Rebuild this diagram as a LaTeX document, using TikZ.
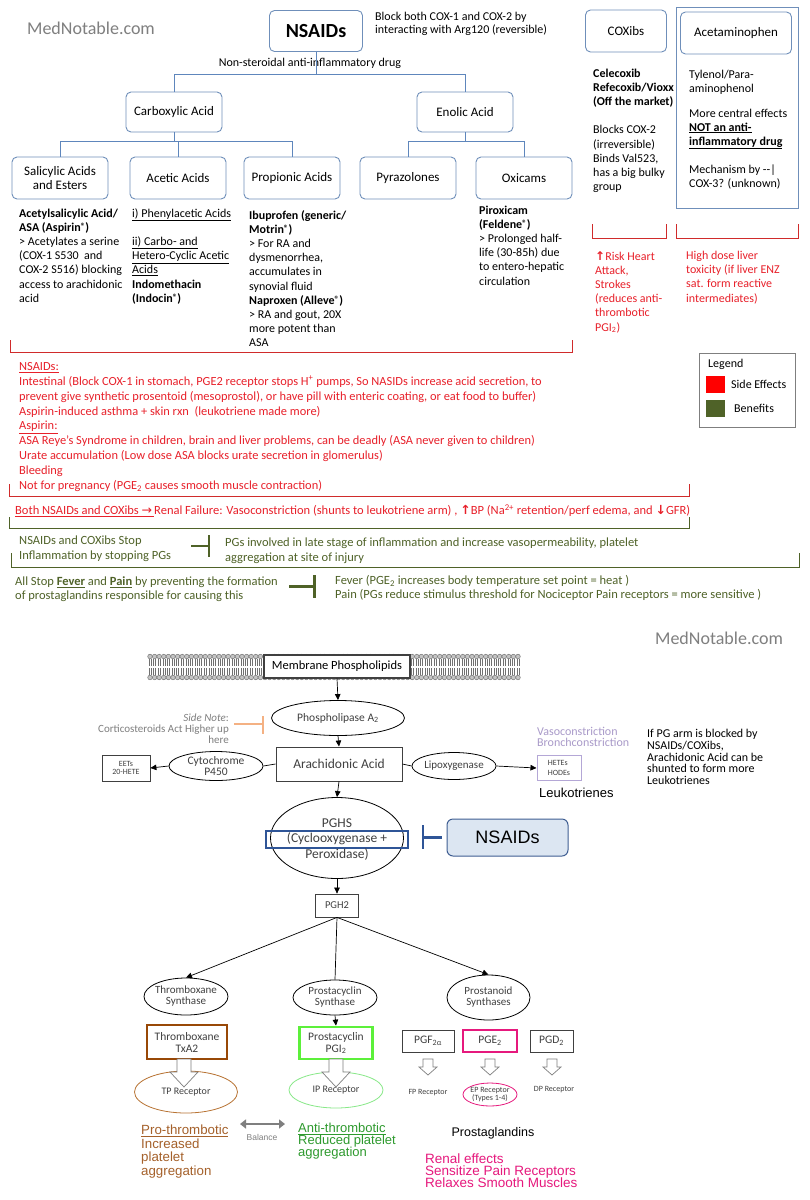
\documentclass[tikz,border=0pt]{standalone}
\usepackage{fontspec}
\setmainfont{Carlito}
\newfontfamily\arialf{Liberation Sans}
\newfontfamily\dvs{DejaVu Sans}
\usetikzlibrary{arrows.meta,shapes.geometric}
\newcommand\fsz[2]{\fontsize{#1}{#2}\selectfont\lineskiplimit=-30pt\relax}
\newcommand\upar{{\dvs\bfseries ↑}}
\newcommand\dnar{{\dvs\bfseries ↓}}
\newcommand\regm{\raisebox{0.4ex}{\fontsize{9}{9}\selectfont ®}}
\definecolor{boxblue}{HTML}{6F8FBA}
\definecolor{linblue}{HTML}{5E86BC}
\definecolor{sered}{HTML}{E8202A}
\definecolor{brred}{HTML}{D02B2B}
\definecolor{olive}{HTML}{4F6228}
\definecolor{mgray}{HTML}{7F7F7F}
\definecolor{dgray}{HTML}{404040}
\definecolor{peach}{HTML}{F4B183}
\definecolor{lav}{HTML}{A99AC9}
\definecolor{navyb}{HTML}{2F5597}
\definecolor{nfill}{HTML}{DCE6F2}
\definecolor{txbrown}{HTML}{984807}
\definecolor{pgigreen}{HTML}{5CF03A}
\definecolor{pinkc}{HTML}{E6197D}
\definecolor{probrown}{HTML}{A5612B}
\definecolor{antigreen}{HTML}{2E9A2E}
\definecolor{tpbrown}{HTML}{B87333}
\definecolor{iplight}{HTML}{88E888}
\definecolor{hetelav}{HTML}{B4A7D6}
\definecolor{memgray}{HTML}{707070}
\definecolor{memfill}{HTML}{C4C4C4}
\begin{document}
\begin{tikzpicture}[x=1pt,y=-1pt,
  tbox/.style={draw=boxblue, line width=0.9pt, rounded corners=5pt, fill=white, inner sep=0pt, align=center, font=\fsz{13}{15}},
  tree/.style={draw=linblue, line width=0.9pt},
  txt/.style={anchor=north west, inner sep=0pt, align=left},
  redbr/.style={draw=brred, line width=1pt},
  grnbr/.style={draw=olive, line width=1pt},
  arr/.style={draw=black, line width=0.7pt, -{Triangle[length=6pt,width=5.5pt]}},
  pl/.style={draw=black, line width=0.7pt},
  ell/.style={ellipse, draw=black, line width=0.8pt, inner sep=0pt, fill=white},
  etxt/.style={inner sep=0pt, align=center, text=dgray, font=\fsz{11}{11}},
  bx/.style={rectangle, inner sep=0pt, align=center, text=dgray, fill=white},
  inhg/.style={draw=olive, line width=2.5pt},
  hol/.style={draw=mgray, line width=0.7pt, fill=white}
]
\useasboundingbox (0,0) rectangle (809,1200);
\fill[white] (0,0) rectangle (809,1200);

% ================= TOP SECTION =================
\node[text=mgray, inner sep=0pt, font=\fsz{18}{20}] (mn1) at (91,28) {MedNotable.com};

\node[tbox, minimum width=93pt, minimum height=41pt, font=\fsz{20}{24}\bfseries] (nsaid) at (316,31) {NSAIDs};
\node[txt, font=\fsz{12}{13.5}] (block) at (375,10.5) {\strut Block both COX-1 and COX-2 by\\interacting with Arg120 (reversible)};
\node[inner sep=0pt, font=\fsz{12}{14}] (nsd) at (310,63) {Non-steroidal anti-inflammatory drug};

\node[tbox, minimum width=96pt, minimum height=40pt] (carb) at (174,112) {Carboxylic Acid};
\node[tbox, minimum width=96pt, minimum height=40pt] (enol) at (465,112) {Enolic Acid};
\draw[tree] (nsaid.south) -- ++(0,23);
\draw[tree] (carb.north) -- ++(0,-17) -| (enol.north);

\node[tbox, minimum width=96pt, minimum height=42pt, font=\fsz{13}{14}] (sal) at (60,178) {Salicylic Acids\\and Esters};
\node[tbox, minimum width=96pt, minimum height=42pt] (acet) at (178,178) {Acetic Acids};
\node[tbox, minimum width=96pt, minimum height=42pt] (prop) at (292,178) {Propionic Acids};
\node[tbox, minimum width=96pt, minimum height=42pt] (pyra) at (408,178) {Pyrazolones};
\node[tbox, minimum width=96pt, minimum height=42pt] (oxi) at (524,178) {Oxicams};
\draw[tree] (carb.south) -- ++(0,10) coordinate (cj);
\draw[tree] (sal.north) -- ++(0,-15) -| (prop.north);
\draw[tree] (acet.north) -- (acet.north |- cj);
\draw[tree] (enol.south) -- ++(0,10) coordinate (ej);
\draw[tree] (pyra.north) -- ++(0,-15) -| (oxi.north);

\node[txt, font=\fsz{12}{14.2}] (d1) at (19,207) {\strut\textbf{Acetylsalicylic Acid/}\\\textbf{ASA (Aspirin\regm)}\\> Acetylates a serine\\(COX-1 S530 \ and\\COX-2 S516) blocking\\access to arachidonic\\acid};
\node[txt, font=\fsz{12}{14.2}] (d2) at (132,207) {\strut\underline{i) Phenylacetic Acids}\\ \\\underline{ii) Carbo- and}\\\underline{Hetero-Cyclic Acetic}\\\underline{Acids}\\\textbf{Indomethacin}\\\textbf{(Indocin\regm)}};
\node[txt, font=\fsz{12}{14.2}] (d3) at (249,209) {\strut\textbf{Ibuprofen (generic/}\\\textbf{Motrin\regm)}\\> For RA and\\dysmenorrhea,\\accumulates in\\synovial fluid\\\textbf{Naproxen (Alleve\regm)}\\> RA and gout, 20X\\more potent than\\ASA};
\node[txt, font=\fsz{12}{14.2}] (d5) at (479,204) {\strut\textbf{Piroxicam}\\\textbf{(Feldene\regm)}\\> Prolonged half-\\life (30-85h) due\\to entero-hepatic\\circulation};

% right column
\node[tbox, minimum width=81pt, minimum height=42pt] (coxib) at (626,31) {COXibs};
\draw[draw=boxblue, line width=1pt] (676,7) rectangle (798,208);
\node[tbox, minimum width=111pt, minimum height=42pt] (acm) at (736,33) {Acetaminophen};
\node[txt, font=\fsz{12}{14.2}] (cx1) at (593,67) {\strut\textbf{Celecoxib}\\\textbf{Refecoxib/Vioxx}\\\textbf{(Off the market)}\\ \\Blocks COX-2\\(irreversible)\\Binds Val523,\\has a big bulky\\group};
\node[txt, font=\fsz{12}{14}] (am1) at (689,68) {\strut Tylenol/Para-\\aminophenol};
\node[txt, font=\fsz{12}{14}] (am2) at (689,107) {\strut More central effects\\\textbf{\underline{NOT an anti-}}\\\textbf{\underline{inflammatory drug}}};
\node[txt, font=\fsz{12}{14}] (am3) at (689,163) {\strut Mechanism by -{}-|\\COX-3? (unknown)};

\draw[redbr] (592,224) -- (592,238) -- (666,238) -- (666,224);
\draw[redbr] (676,224) -- (676,238) -- (798,238) -- (798,224);
\node[txt, text=sered, font=\fsz{12}{14.2}] (cxr) at (595,250) {\strut\upar Risk Heart\\Attack,\\Strokes\\(reduces anti-\\thrombotic\\PGI\textsubscript{2})};
\node[txt, text=sered, font=\fsz{12}{14.3}] (amr) at (686,249) {\strut High dose liver\\toxicity (if liver ENZ\\sat. form reactive\\intermediates)};

% legend
\node[draw=mgray, line width=0.8pt, minimum width=96pt, minimum height=74pt, inner sep=0pt] (legend) at (747,390) {};
\node[anchor=west, inner sep=0pt, font=\fsz{12}{14}] (legt) at (708,364) {Legend};
\node[fill=red, minimum width=19pt, minimum height=17pt, inner sep=0pt] (lr) at (715.5,384.5) {};
\node[anchor=west, inner sep=0pt, font=\fsz{12}{14}] (lrt) at (731,384) {Side Effects};
\node[fill=olive, minimum width=19pt, minimum height=17pt, inner sep=0pt] (lg) at (715.5,408) {};
\node[anchor=west, inner sep=0pt, font=\fsz{12}{14}] (lgt) at (734,408) {Benefits};

% side effects
\draw[redbr] (10,340) -- (10,352) -- (572,352) -- (572,340);
\node[txt, text=sered, font=\fsz{12.4}{14.9}] (se) at (19,359.7) {\strut\underline{NSAIDs:}\\Intestinal (Block COX-1 in stomach, PGE2 receptor stops H\textsuperscript{+} pumps, So NASIDs increase acid secretion, to\\prevent give synthetic prosentoid (mesoprostol), or have pill with enteric coating, or eat food to buffer)\\Aspirin-induced asthma + skin rxn \ (leukotriene made more)\\\underline{Aspirin:}\\ASA Reye’s Syndrome in children, brain and liver problems, can be deadly (ASA never given to children)\\Urate accumulation (Low dose ASA blocks urate secretion in glomerulus)\\Bleeding\\Not for pregnancy (PGE\textsubscript{2} causes smooth muscle contraction)};
\draw[redbr] (9,484) -- (9,496) -- (689,496) -- (689,484);
\node[anchor=west, inner sep=0pt, text=sered, font=\fsz{12.5}{14}] (renal) at (15,511) {\underline{Both NSAIDs and COXibs {\dvs →}\,}Renal Failure: Vasoconstriction (shunts to leukotriene arm) , \upar BP (Na\textsuperscript{2+} retention/perf edema, and \dnar GFR)};
\draw[grnbr] (9,517) -- (9,528) -- (689,528) -- (689,517);

% benefits
\node[txt, text=olive, font=\fsz{12.5}{15}] (b1) at (19,533.6) {\strut NSAIDs and COXibs Stop\\Inflammation by stopping PGs};
\node[txt, text=olive, font=\fsz{12.5}{15}] (b1r) at (225,535.6) {\strut PGs involved in late stage of inflammation and increase vasopermeability, platelet\\aggregation at site of injury};
\coordinate (g1a) at (191,546);
\coordinate (g1b) at (209,546);
\draw[inhg] (g1a) -- (g1b);
\draw[inhg] (209,535) -- (209,557);
\draw[grnbr] (11,553) -- (11,567) -- (799,567) -- (799,553);
\node[txt, text=olive, font=\fsz{12.5}{14}] (b2) at (15,575.3) {\strut All Stop \textbf{\underline{Fever}} and \textbf{\underline{Pain}} by preventing the formation\\of prostaglandins responsible for causing this};
\node[txt, text=olive, font=\fsz{12.5}{14}] (b2r) at (335,574.3) {\strut Fever (PGE\textsubscript{2} increases body temperature set point = heat )\\Pain (PGs reduce stimulus threshold for Nociceptor Pain receptors = more sensitive )};
\coordinate (g2a) at (289,586);
\coordinate (g2b) at (314,586);
\draw[inhg, line width=3pt] (g2a) -- (g2b);
\draw[inhg, line width=3pt] (314,575) -- (314,598);

% ================= BOTTOM SECTION =================
\node[text=mgray, inner sep=0pt, font=\fsz{18}{20}] (mn2) at (719,638) {MedNotable.com};

% membrane bilayer
\foreach \i in {0,...,80} {
  \pgfmathsetmacro\xx{150+4.6*\i}
  \draw[memgray, line width=0.5pt] (\xx-1,659) -- (\xx-1,666) (\xx+1,659) -- (\xx+1,666)
       (\xx-1,668) -- (\xx-1,675) (\xx+1,668) -- (\xx+1,675);
  \filldraw[draw=memgray, fill=memfill, line width=0.45pt] (\xx,656.5) circle (2.3) (\xx,677.5) circle (2.3);
}
\node[bx, draw=dgray, line width=1.3pt, minimum width=146pt, minimum height=23pt, text=black, font=\fsz{12.5}{14}] (mem) at (337,666.5) {Membrane Phospholipids};

\node[ell, minimum width=133pt, minimum height=35pt, label={[etxt, font=\fsz{11.5}{12}]center:Phospholipase A\textsubscript{2}}] (pla) at (338,718) {};
\node[anchor=north east, inner sep=0pt, align=right, text=mgray, font=\fsz{11}{11}] (side) at (229,713.4) {\textit{Side Note}:\\Corticosteroids Act Higher up\\here};
\coordinate (pk1) at (234,724);
\coordinate (pk2) at (262,724);
\draw[draw=peach, line width=2.5pt] (pk1) -- (pk2);
\draw[draw=peach, line width=2.5pt] (263,716) -- (263,734);

\node[bx, draw=dgray, line width=1pt, minimum width=126pt, minimum height=34pt, font=\fsz{13.5}{15}] (ara) at (339,764) {Arachidonic Acid};
\node[ell, minimum width=94pt, minimum height=29pt, label={[etxt, font=\fsz{11.5}{11}]center:Cytochrome\\P450}] (cyt) at (216,766) {};
\node[bx, draw=dgray, line width=0.8pt, minimum width=48pt, minimum height=26pt, font=\fsz{8}{8.5}] (eet) at (126,768) {EETs\\20-HETE};
\node[ell, minimum width=84pt, minimum height=27pt, label={[etxt, font=\fsz{11}{11}]center:Lipoxygenase}] (lip) at (454,766) {};
\node[bx, draw=hetelav, line width=1pt, minimum width=44pt, minimum height=25pt, align=left, font=\fsz{8}{9.5}] (hete) at (559,768) {HETEs\\HODEs};
\node[txt, text=lav, font=\fsz{12}{11.5}] (vaso) at (537,726.7) {Vasoconstriction\\Bronchconstriction};
\node[anchor=west, inner sep=0pt, font=\arialf\fsz{13}{14}] (leuk) at (539,793) {Leukotrienes};
\node[txt, font=\fsz{12}{11.75}] (ifpg) at (647,729) {If PG arm is blocked by\\NSAIDs/COXibs,\\Arachidonic Acid can be\\shunted to form more\\Leukotrienes};

\draw[arr] (mem.south) -- (pla.north);
\draw[arr] (pla.south) -- (ara.north);
\draw[pl] (ara.west) -- (cyt.east);
\draw[arr] (cyt.west) -- (eet.east);
\draw[pl] (ara.east) -- (lip.west);
\draw[arr] (lip.east) -- (hete.west);

\node[ell, minimum width=133pt, minimum height=81pt] (pghs) at (337,838) {};
\node[draw=navyb, line width=1.8pt, minimum width=142pt, minimum height=17pt, inner sep=0pt] (cyc) at (337,839.5) {};
\node[inner sep=0pt, align=center, text=dgray, font=\fsz{13.5}{15.5}] (pghst) at (337,839.5) {PGHS\\(Cyclooxygenase +\\Peroxidase)};
\node[draw=navyb!80!gray, fill=nfill, rounded corners=6pt, line width=1pt, minimum width=121pt, minimum height=37pt, inner sep=0pt, font=\arialf\fsz{18}{20}] (nsaid2) at (507.5,837.5) {NSAIDs};
\draw[draw=navyb, line width=2.5pt, shorten <=5pt] (nsaid2.west) -- (423,837.5);
\draw[draw=navyb, line width=2.5pt] (423,825) -- (423,849);
\draw[arr] (ara.south) -- (pghs.north);

\node[bx, draw=dgray, line width=0.8pt, minimum width=43pt, minimum height=23pt, font=\fsz{10.5}{12}] (pgh2) at (337,905.5) {PGH2};
\draw[arr] (pghs.south) -- (pgh2.north);

\node[ell, minimum width=84pt, minimum height=37pt, label={[etxt]center:Thromboxane\\Synthase}] (tbs) at (186,996.5) {};
\node[ell, minimum width=84pt, minimum height=35pt, label={[etxt]center:Prostacyclin\\Synthase}] (pcs) at (335,997.5) {};
\node[ell, minimum width=83pt, minimum height=45pt, label={[etxt]center:Prostanoid\\Synthases}] (pns) at (488.5,997.5) {};
\draw[arr] (pgh2.south) -- (tbs.north);
\draw[pl] (pgh2.south) -- (pcs.north);
\draw[arr] (pgh2.south) -- (pns.north);

\node[bx, draw=txbrown, line width=2.8pt, minimum width=80pt, minimum height=34pt, font=\fsz{11.5}{12}] (txa) at (187,1042) {Thromboxane\\TxA2};
\node[bx, draw=pgigreen, line width=2.8pt, minimum width=73pt, minimum height=32pt, font=\fsz{11.5}{12}] (pgi) at (336,1043) {Prostacyclin\\PGI\textsubscript{2}};
\draw[arr] (pcs.south) -- (pgi.north);
\node[bx, draw=dgray, line width=0.8pt, minimum width=52pt, minimum height=22pt, font=\fsz{11.5}{12}] (pgf) at (428,1041) {PGF\textsubscript{2α}};
\node[bx, draw=pinkc, line width=2.3pt, minimum width=54pt, minimum height=22pt, font=\fsz{11.5}{12}] (pge) at (490,1041) {PGE\textsubscript{2}};
\node[bx, draw=dgray, line width=0.8pt, minimum width=43pt, minimum height=22pt, font=\fsz{11.5}{12}] (pgd) at (551.5,1041) {PGD\textsubscript{2}};

\node[ell, draw=tpbrown, minimum width=103pt, minimum height=42pt, label={[etxt, font=\fsz{10}{11}]center:TP Receptor}] (tp) at (186,1092) {};
\node[ell, draw=iplight, minimum width=94pt, minimum height=36pt, label={[etxt, font=\fsz{10}{11}]center:IP Receptor}] (ip) at (336,1090) {};
\node[ell, draw=pinkc, minimum width=54pt, minimum height=23pt, label={[etxt, font=\fsz{8}{8}]center:EP Receptor\\(Types 1-4)}] (ep) at (490,1094.5) {};
\node[inner sep=0pt, text=dgray, font=\fsz{8}{9}] (fp) at (428,1093) {FP Receptor};
\node[inner sep=0pt, text=dgray, font=\fsz{8}{9}] (dp) at (554,1090) {DP Receptor};

% hollow block arrows
\draw[hol] (177,1059) -- (177,1072) -- (170,1072) -- (184,1087) -- (198,1072) -- (191,1072) -- (191,1059) -- cycle;
\draw[hol] (329,1059) -- (329,1072) -- (322,1072) -- (336,1087) -- (350,1072) -- (343,1072) -- (343,1059) -- cycle;
\foreach \cx in {428,490,552} {
  \draw[hol] (\cx-5,1059) -- (\cx-5,1067) -- (\cx-9,1067) -- (\cx,1075) -- (\cx+9,1067) -- (\cx+5,1067) -- (\cx+5,1059) -- cycle;
}

\node[inner sep=0pt, font=\arialf\fsz{12.5}{14}] (pgs) at (493,1133) {Prostaglandins};
\node[txt, text=pinkc, font=\arialf\fsz{13.5}{11.6}] (pink) at (425,1154) {\strut Renal effects\\Sensitize Pain Receptors\\Relaxes Smooth Muscles};
\node[txt, text=probrown, font=\arialf\fsz{13.3}{13.4}] (pro) at (141,1125.1) {\strut\underline{Pro-thrombotic}\\Increased\\platelet\\aggregation};
\node[txt, text=antigreen, font=\arialf\fsz{13}{11.6}] (anti) at (298,1123.2) {\strut\underline{Anti-thrombotic}\\Reduced platelet\\aggregation};
\coordinate (bal1) at (240,1124);
\coordinate (bal2) at (285,1124);
\draw[draw=mgray, line width=2.5pt, {Triangle[length=6pt,width=9pt]}-{Triangle[length=6pt,width=9pt]}] (bal1) -- (bal2);
\node[inner sep=0pt, text=mgray, font=\arialf\fsz{8.5}{9}] (bal) at (262,1137) {Balance};
\end{tikzpicture}
\end{document}
